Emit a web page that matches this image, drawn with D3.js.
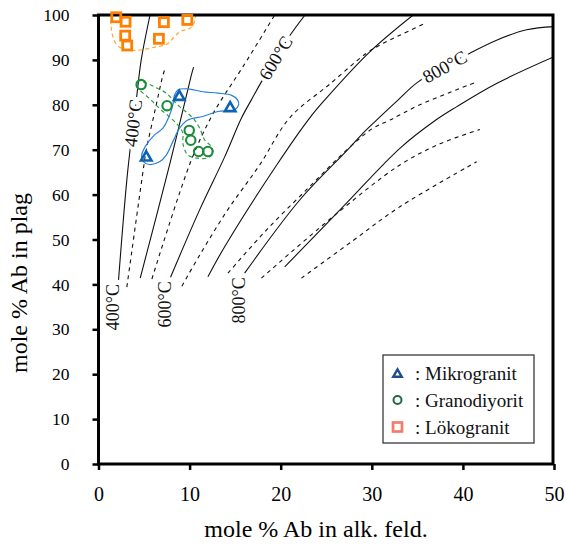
<!DOCTYPE html>
<html>
<head>
<meta charset="utf-8">
<script src="https://cdn.jsdelivr.net/npm/d3@7/dist/d3.min.js"></script>
<style>
  body { margin: 0; background: #fff; }
  svg { display: block; }
  svg text { font-family: "Liberation Serif", "Times New Roman", serif; }
</style>
</head>
<body>
<svg id="chart" width="566" height="547"></svg>
<script>
// ---- axis ticks ----
const xTicks = [0, 10, 20, 30, 40, 50];
const yTicks = [0, 10, 20, 30, 40, 50, 60, 70, 80, 90, 100];

// ---- samples: [mole % Ab in alk. feld., mole % Ab in plag] ----
const mikrogranit  = [[5.24, 68.6], [8.87, 82.1], [14.45, 79.6]];
const granodiyorit = [[4.68, 84.5], [7.53, 79.8], [9.96, 74.3], [10.13, 72.1], [10.99, 69.6], [12.01, 69.6]];
const lokogranit   = [[1.95, 99.5], [2.97, 98.5], [2.93, 95.4], [3.15, 93.2], [7.18, 98.4], [9.75, 98.9], [6.63, 94.7]];

// ---- group outlines ----
const mikrogranitHull = [[4.73,68.6],[5.16,70.8],[6.15,73.3],[7.07,74.8],[7.80,77.7],[8.16,80.0],[8.35,82.2],[8.79,83.4],
  [10.0,83.5],[11.46,82.9],[13.11,82.6],[14.62,82.1],[15.27,81.1],[15.38,80.0],[14.95,78.9],[13.11,78.5],[11.46,77.4],
  [9.81,76.6],[8.90,74.8],[8.16,71.8],[7.44,68.8],[6.70,67.3],[5.60,66.7],[4.95,67.3]];
const granodiyoritHull = [[5.05,85.0],[6.34,83.8],[7.44,82.6],[8.16,81.1],[8.90,79.6],[9.81,78.1],[10.55,76.6],[11.10,74.8],
  [11.65,72.2],[12.38,70.7],[12.56,69.2],[12.01,68.2],[10.91,68.1],[9.81,68.8],[9.26,71.4],[9.26,73.7],[8.71,75.5],
  [7.80,77.3],[6.70,79.2],[5.60,81.4],[4.51,83.3],[4.14,84.4],[4.43,85.3]];
const lokogranitHull = [[1.37,100.5],[1.37,97.8],[1.59,95.1],[2.14,93.1],[3.23,92.2],[4.55,92.2],[6.3,92.9],[7.5,93.5],
  [8.3,95.1],[9.05,96.4],[10.0,97.0],[10.5,98.2],[10.7,100.5]];

// ---- two-feldspar isotherms ----
const solidA  = [[2.20,41.0],[3.22,65.5],[4.15,81.1],[4.69,90.0],[5.66,100]];
const dashedA = [[3.11,39.4],[4.91,65.5],[5.24,69.9],[6.21,78.8],[7.07,86.6],[7.25,87.7]];
const solidB  = [[4.58,41.4],[7.80,66.6],[10.19,86.6],[10.44,88.4]];
const dashedB = [[5.86,41.2],[10.19,67.7],[12.38,77.3],[13.48,81.1],[15.86,88.5],[19.34,100]];
const solidC  = [[7.91,41.6],[11.10,56.6],[13.85,68.4],[15.68,77.0],[16.78,81.1],[17.88,85.1],[20.80,94.8],[22.67,100]];
const dashedC = [[9.15,39.6],[11.10,46.5],[14.18,56.6],[17.69,66.6],[20.99,77.1],[25.38,84.6],[29.42,91.5],[30.88,93.3],[33.08,95.5],[36.01,98.3]];
const solidD  = [[12.01,41.7],[13.85,48.4],[19.56,66.6],[23.19,77.1],[24.84,81.1],[29.78,91.8],[34.54,100]];
const dashedD = [[14.21,42.5],[18.43,52.1],[23.19,61.8],[27.22,69.9],[30.14,74.8],[31.98,76.6],[35.27,80.0],[41.51,85.1]];
const solidE  = [[16.04,42.5],[22.09,58.8],[27.31,69.9],[29.04,73.7],[30.52,76.6],[32.90,81.1],[35.09,85.1],[40.77,91.5],[43.70,94.4],[47.0,96.7],[50,97.4]];
const solidF  = [[20.44,43.9],[26.85,57.3],[33.08,70.3],[37.03,76.6],[39.34,79.6],[43.74,84.8],[50,90.7]];
const dashedE = [[17.88,41.4],[25.75,55.1],[33.08,66.6],[37.47,71.3],[41.87,74.5]];
const dashedF = [[22.27,41.4],[27.90,49.7],[33.08,57.3],[41.51,67.3]];

const solidLines  = [solidA, solidB, solidC, solidD, solidE, solidF];
const dashedLines = [dashedA, dashedB, dashedC, dashedD, dashedE, dashedF];

// temperature labels: at the lower end of a line, and along a line at a given plag value
const endLabels   = [{ text: "400°C", line: solidA }, { text: "600°C", line: solidC }, { text: "800°C", line: solidE }];
const alongLabels = [{ text: "400°C", line: solidA, at: 75.9 }, { text: "600°C", line: solidC, at: 90.4 }, { text: "800°C", line: solidE, at: 88.4 }];

const legendItems = [
  { text: ": Mikrogranit",  shape: "tri" },
  { text: ": Granodiyorit", shape: "circle" },
  { text: ": Lökogranit",   shape: "square" }
];

// ---------------------------------------------------------------
const serif = '"Liberation Serif", "Times New Roman", serif';
const svg = d3.select("#chart");
const x = d3.scaleLinear().domain([0, 50]).range([98.5, 554]);
const y = d3.scaleLinear().domain([0, 100]).range([464, 15]);

svg.append("defs").append("clipPath").attr("id", "plotArea")
  .append("rect").attr("x", x(0)).attr("y", y(100))
  .attr("width", x(50) - x(0)).attr("height", y(0) - y(100));

const plot = svg.append("g").attr("clip-path", "url(#plotArea)");

const curveLine = d3.line().x(d => x(d[0])).y(d => y(d[1])).curve(d3.curveCatmullRom.alpha(0.5));
const closedLine = d3.line().x(d => x(d[0])).y(d => y(d[1])).curve(d3.curveCatmullRomClosed.alpha(0.5));

// isotherms
plot.selectAll("path.solid").data(solidLines).join("path")
  .attr("class", "solid").attr("d", curveLine)
  .attr("fill", "none").attr("stroke", "#111").attr("stroke-width", 1.1);
plot.selectAll("path.dashed").data(dashedLines).join("path")
  .attr("class", "dashed").attr("d", curveLine)
  .attr("fill", "none").attr("stroke", "#111").attr("stroke-width", 1.1)
  .attr("stroke-dasharray", "4,4");

// labels along lines, with a white halo that opens a gap in the line
function pointAt(line, v) {
  for (let i = 0; i < line.length - 1; i++) {
    const a = line[i], b = line[i + 1];
    if (v >= a[1] && v <= b[1]) {
      const t = (v - a[1]) / (b[1] - a[1]);
      const px = x(a[0] + t * (b[0] - a[0])), py = y(v);
      const ang = Math.atan2(y(b[1]) - y(a[1]), x(b[0]) - x(a[0])) * 180 / Math.PI;
      return { px, py, ang };
    }
  }
  return null;
}
alongLabels.forEach(l => {
  const p = pointAt(l.line, l.at);
  plot.append("text")
    .attr("transform", `translate(${p.px},${p.py}) rotate(${p.ang})`)
    .attr("text-anchor", "middle").attr("dominant-baseline", "central")
    .attr("font-size", 18.5).attr("fill", "#111")
    .attr("stroke", "#fff").attr("stroke-width", 7).attr("paint-order", "stroke")
    .text(l.text);
});
endLabels.forEach(l => {
  const s = l.line[0];
  plot.append("text")
    .attr("transform", `translate(${x(s[0]) + 0.5},${y(s[1]) + 4}) rotate(-90)`)
    .attr("text-anchor", "end").attr("font-size", 18).attr("fill", "#111")
    .text(l.text);
});

// group outlines
plot.append("path").datum(lokogranitHull).attr("d", curveLine)
  .attr("fill", "none").attr("stroke", "#ffa733").attr("stroke-width", 1.2).attr("stroke-dasharray", "4,3");
plot.append("path").datum(granodiyoritHull).attr("d", closedLine)
  .attr("fill", "none").attr("stroke", "#2ea043").attr("stroke-width", 1.2).attr("stroke-dasharray", "4,3");
plot.append("path").datum(mikrogranitHull).attr("d", closedLine)
  .attr("fill", "none").attr("stroke", "#2a7fd9").attr("stroke-width", 1.2);

// frame and axes
svg.append("rect").attr("x", x(0)).attr("y", y(100))
  .attr("width", x(50) - x(0) - 1).attr("height", y(0) - y(100))
  .attr("fill", "none").attr("stroke", "#000").attr("stroke-width", 3);

const xAxis = svg.append("g").attr("transform", `translate(0,${y(0)})`)
  .call(d3.axisBottom(x).tickValues(xTicks).tickSize(6).tickSizeOuter(0).tickPadding(17));
const yAxis = svg.append("g").attr("transform", `translate(${x(0)},0)`)
  .call(d3.axisLeft(y).tickValues(yTicks).tickSize(6).tickSizeOuter(0).tickPadding(23));
[xAxis, yAxis].forEach(g => {
  g.attr("font-family", null);
  g.select(".domain").remove();
  g.selectAll(".tick line").attr("stroke", "#000").attr("stroke-width", 2.5);
  g.selectAll(".tick text").attr("fill", "#000").style("font-family", serif);
});
xAxis.selectAll(".tick text").attr("font-size", 20);
yAxis.selectAll(".tick text").attr("font-size", 17.5);

svg.append("text").attr("x", 316).attr("y", 537).attr("text-anchor", "middle")
  .style("font-family", serif).attr("font-size", 24).text("mole % Ab in alk. feld.");
svg.append("text").attr("transform", "translate(27,283) rotate(-90)").attr("text-anchor", "middle")
  .style("font-family", serif).attr("font-size", 24).text("mole % Ab in plag");

// sample markers
function triPath(cx, cy, s) {
  const h = s * 0.866;
  return `M${cx},${cy - h / 2}L${cx + s / 2},${cy + h / 2}L${cx - s / 2},${cy + h / 2}Z`;
}
const pts = svg.append("g");
pts.selectAll("rect.lok").data(lokogranit).join("rect").attr("class", "lok")
  .attr("x", d => x(d[0]) - 4.5).attr("y", d => y(d[1]) - 4.5).attr("width", 9).attr("height", 9)
  .attr("fill", "none").attr("stroke", "#ff8000").attr("stroke-width", 2.8);
pts.selectAll("circle.gra").data(granodiyorit).join("circle").attr("class", "gra")
  .attr("cx", d => x(d[0])).attr("cy", d => y(d[1])).attr("r", 4.7)
  .attr("fill", "none").attr("stroke", "#1b8a3a").attr("stroke-width", 2.1);
pts.selectAll("path.mik").data(mikrogranit).join("path").attr("class", "mik")
  .attr("d", d => triPath(x(d[0]), y(d[1]), 10.5))
  .attr("fill", "none").attr("stroke", "#0b63b6").attr("stroke-width", 2.6);

// legend
const lg = svg.append("g");
lg.append("rect").attr("x", 383).attr("y", 355).attr("width", 151).attr("height", 88)
  .attr("fill", "#fff").attr("stroke", "#3a3a3a").attr("stroke-width", 1.3);
legendItems.forEach((it, i) => {
  const cy = 373 + i * 27, cx = 397.5;
  if (it.shape === "tri") {
    lg.append("path").attr("d", triPath(cx, cy, 8.5)).attr("fill", "none")
      .attr("stroke", "#1f4e8c").attr("stroke-width", 2.4);
  } else if (it.shape === "circle") {
    lg.append("circle").attr("cx", cx).attr("cy", cy).attr("r", 4).attr("fill", "none")
      .attr("stroke", "#1f6b40").attr("stroke-width", 2);
  } else {
    lg.append("rect").attr("x", cx - 4.5).attr("y", cy - 4.5).attr("width", 9).attr("height", 9)
      .attr("fill", "none").attr("stroke", "#f47c6a").attr("stroke-width", 2.7);
  }
  lg.append("text").attr("x", 415).attr("y", cy + 6.5).attr("font-size", 19).attr("fill", "#111").text(it.text);
});
</script>
</body>
</html>
